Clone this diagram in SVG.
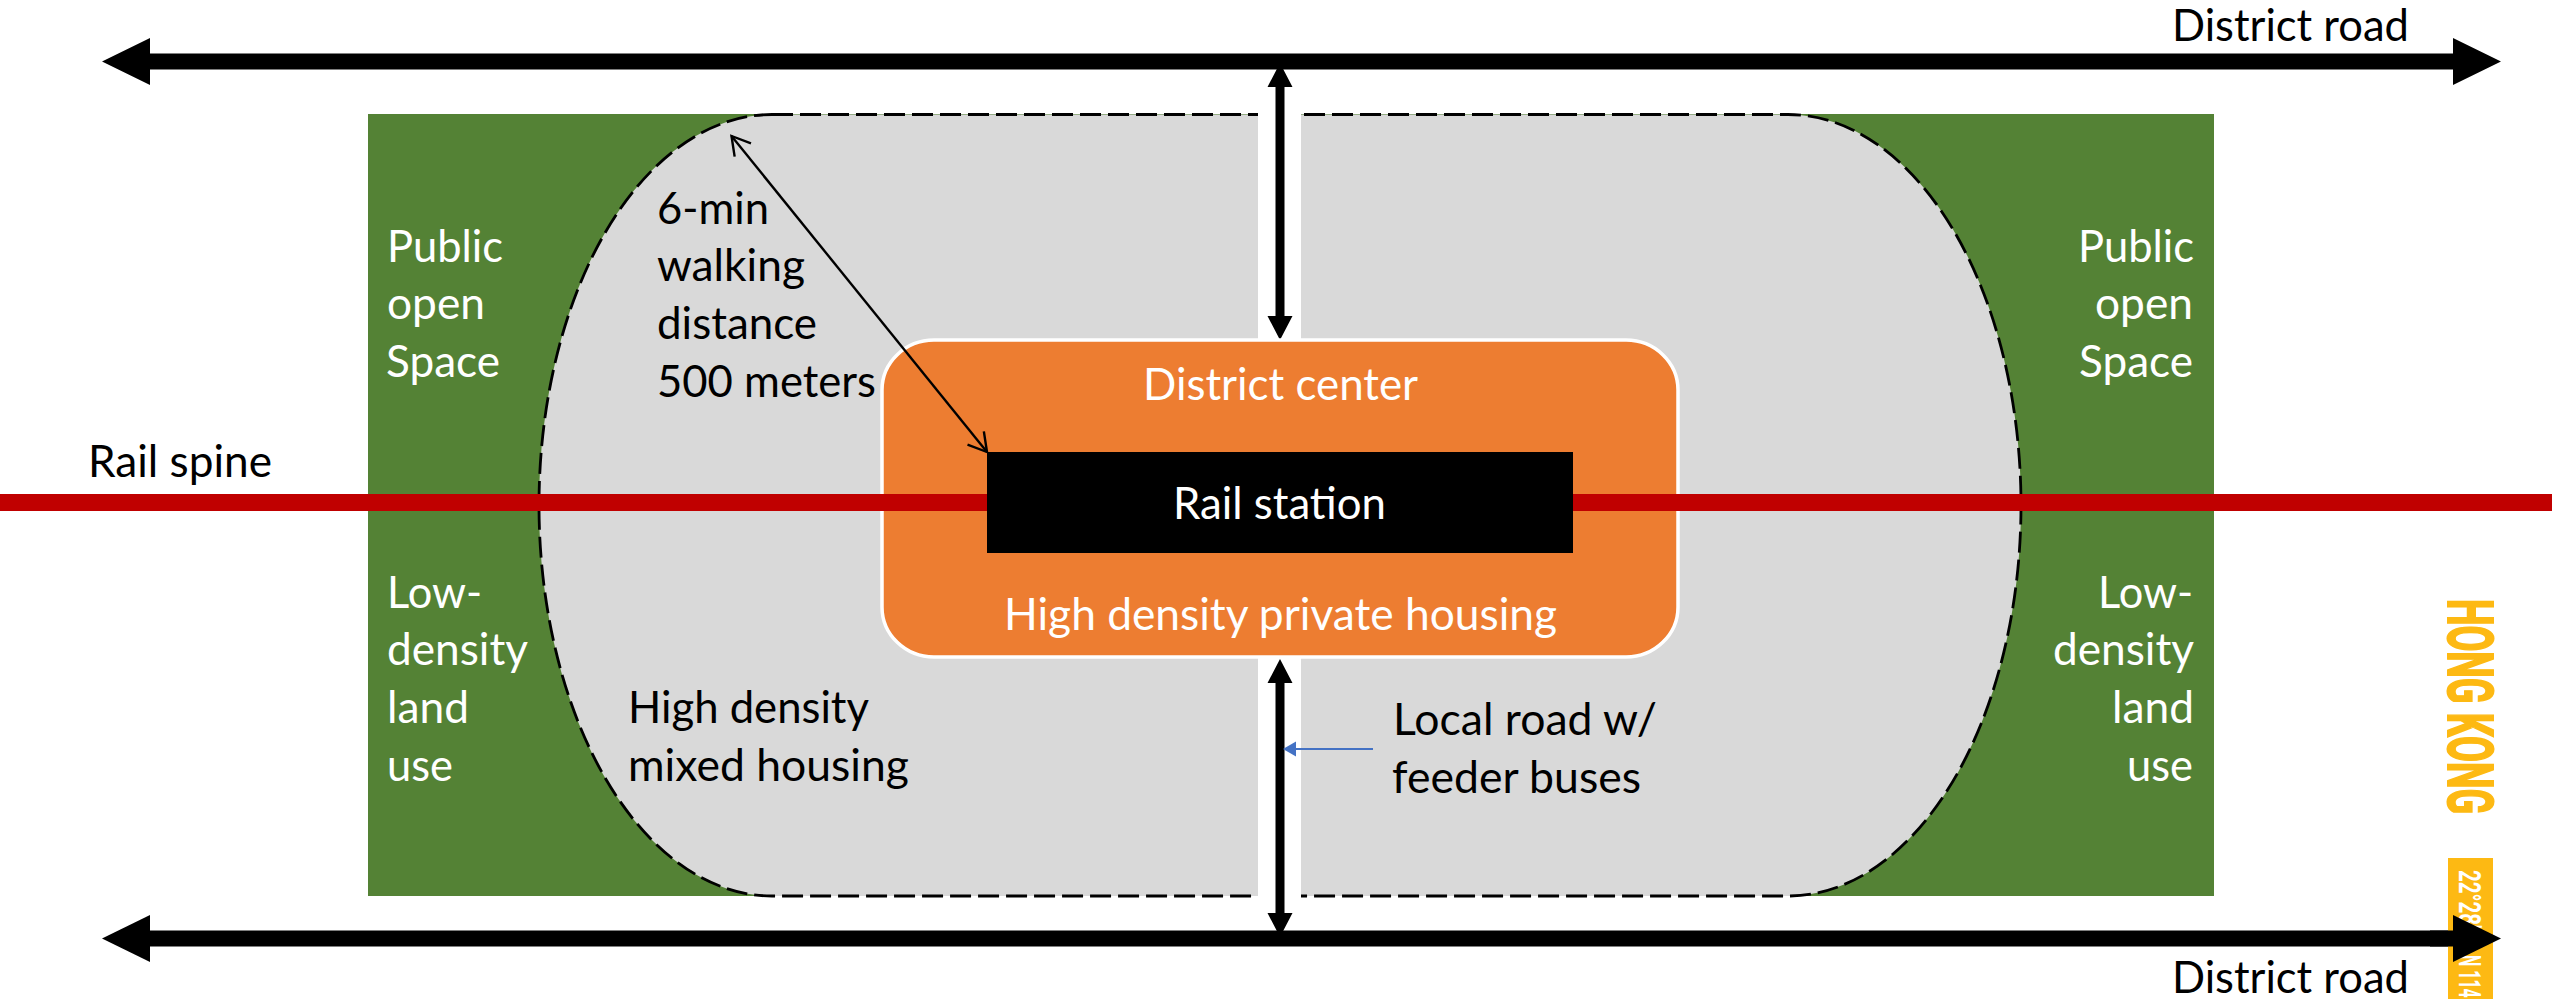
<svg xmlns="http://www.w3.org/2000/svg" width="2552" height="999" viewBox="0 0 2552 999">
<style>
text{font-family:"Lato","Open Sans","Liberation Sans",sans-serif;font-size:44px}
.w{fill:#fff}.k{fill:#000}
.road{stroke:#000;stroke-width:16;fill:none}
.local{stroke:#000;stroke-width:9;fill:none}
.rail{stroke:#c00000;stroke-width:17;fill:none}
.tag{font-family:"Roboto","Liberation Sans",sans-serif;font-weight:700}
</style>
<defs>
<marker id="open" markerUnits="userSpaceOnUse" markerWidth="30" markerHeight="30" refX="24" refY="15" orient="auto-start-reverse" overflow="visible"><path d="M6,4.500 L24,15 L6,25.500" fill="none" stroke="#000" stroke-width="2.400"/></marker>
</defs>
<rect width="2552" height="999" fill="#fff"/>
<g id="open-space"><rect x="368" y="114" width="1846" height="782" fill="#548235"/></g>
<g id="mixed-housing"><path d="M772,114.500 H1788 A233,391 0 0 1 2021,505 A233,391 0 0 1 1788,896 H772 A233,391 0 0 1 539,505 A233,391 0 0 1 772,114.500 Z" fill="#d9d9d9" stroke="#000" stroke-width="2.800" stroke-dasharray="21 7"/></g>
<g id="road-gap"><rect x="1258" y="108" width="43" height="795" fill="#fff"/></g>
<g id="connectors">
<line class="rail" x1="0" y1="502.500" x2="988" y2="502.500"/>
<line class="rail" x1="1572" y1="502.500" x2="2552" y2="502.500"/>
<g id="district-road-top"><line class="road" x1="150" y1="61.500" x2="2453" y2="61.500"/><path d="M102,61.500 L150,38 V85 Z M2501,61.500 L2453,38 V85 Z"/></g>
<g id="district-road-bottom"><line class="road" x1="150" y1="938.500" x2="2453" y2="938.500"/></g>
<g id="local-road-top"><line class="local" x1="1280" y1="80" x2="1280" y2="320"/><path d="M1280,63 L1292.500,87 H1267.500 Z M1280,340 L1292.500,316 H1267.500 Z"/></g>
<g id="local-road-bottom"><line class="local" x1="1280" y1="680" x2="1280" y2="916"/><path d="M1280,659 L1292.500,683 H1267.500 Z M1280,937 L1292.500,913 H1267.500 Z"/></g>
</g>
<g id="district-center"><rect x="882" y="340" width="796" height="317" rx="52" ry="50" fill="#ed7d31" stroke="#fff" stroke-width="3.500"/>
<line class="rail" x1="880" y1="502.500" x2="988" y2="502.500"/><line class="rail" x1="1572" y1="502.500" x2="1680" y2="502.500"/>
<text class="w" x="1143" y="400" textLength="275" lengthAdjust="spacingAndGlyphs">District center</text>
<text class="w" x="1004" y="630" textLength="553" lengthAdjust="spacingAndGlyphs">High density private housing</text></g>
<g id="rail-station"><rect x="987" y="452" width="586" height="101" fill="#000"/><text class="w" x="1173" y="519" textLength="213" lengthAdjust="spacingAndGlyphs">Rail station</text></g>
<g id="bottom-arrow-head"><path d="M102,938.500 L150,915 V962 Z"/></g>
<g id="walking-arrow"><line x1="731.500" y1="136" x2="987" y2="452" stroke="#000" stroke-width="2.400" marker-start="url(#open)" marker-end="url(#open)"/></g>
<g id="feeder-pointer"><line x1="1373" y1="749" x2="1294" y2="749" stroke="#4472c4" stroke-width="2.200"/><path d="M1283,749 L1296,741.500 V756.500 Z" fill="#4472c4"/></g>
<g id="labels-left">
<text class="w" x="387" y="262" textLength="116" lengthAdjust="spacingAndGlyphs">Public</text>
<text class="w" x="387" y="319" textLength="98" lengthAdjust="spacingAndGlyphs">open</text>
<text class="w" x="386" y="377" textLength="114" lengthAdjust="spacingAndGlyphs">Space</text>
<text class="w" x="387" y="608" textLength="95" lengthAdjust="spacingAndGlyphs">Low-</text>
<text class="w" x="387" y="665" textLength="141" lengthAdjust="spacingAndGlyphs">density</text>
<text class="w" x="387" y="723" textLength="82" lengthAdjust="spacingAndGlyphs">land</text>
<text class="w" x="387" y="781" textLength="66" lengthAdjust="spacingAndGlyphs">use</text>
</g>
<g id="labels-right">
<text class="w" x="2078" y="262" textLength="116" lengthAdjust="spacingAndGlyphs">Public</text>
<text class="w" x="2095" y="319" textLength="98" lengthAdjust="spacingAndGlyphs">open</text>
<text class="w" x="2079" y="377" textLength="114" lengthAdjust="spacingAndGlyphs">Space</text>
<text class="w" x="2098" y="608" textLength="95" lengthAdjust="spacingAndGlyphs">Low-</text>
<text class="w" x="2053" y="665" textLength="141" lengthAdjust="spacingAndGlyphs">density</text>
<text class="w" x="2112" y="723" textLength="82" lengthAdjust="spacingAndGlyphs">land</text>
<text class="w" x="2127" y="781" textLength="66" lengthAdjust="spacingAndGlyphs">use</text>
</g>
<g id="labels-inner">
<text class="k" x="657" y="224" textLength="112" lengthAdjust="spacingAndGlyphs">6-min</text>
<text class="k" x="657" y="281" textLength="148" lengthAdjust="spacingAndGlyphs">walking</text>
<text class="k" x="657" y="339" textLength="160" lengthAdjust="spacingAndGlyphs">distance</text>
<text class="k" x="657" y="397" textLength="219" lengthAdjust="spacingAndGlyphs">500 meters</text>
<text class="k" x="628" y="723" textLength="241" lengthAdjust="spacingAndGlyphs">High density</text>
<text class="k" x="628" y="781" textLength="281" lengthAdjust="spacingAndGlyphs">mixed housing</text>
<text class="k" x="1393" y="735" textLength="264" lengthAdjust="spacingAndGlyphs">Local road w/</text>
<text class="k" x="1392" y="793" textLength="249" lengthAdjust="spacingAndGlyphs">feeder buses</text>
</g>
<g id="labels-roads">
<text class="k" x="2172" y="41" textLength="237" lengthAdjust="spacingAndGlyphs">District road</text>
<text class="k" x="2172" y="993" textLength="237" lengthAdjust="spacingAndGlyphs">District road</text>
<text class="k" x="88" y="477" textLength="184" lengthAdjust="spacingAndGlyphs">Rail spine</text>
</g>
<g id="hong-kong-tag">
<text class="tag" transform="translate(2448,599) rotate(90)" style="font-size:63px;stroke:#fdb913;stroke-width:2" fill="#fdb913" textLength="215" lengthAdjust="spacingAndGlyphs">HONG KONG</text>
</g>
<g id="coordinate-tag">
<rect x="2448" y="858" width="45" height="141" fill="#fdb913"/>
<text class="tag" transform="translate(2459,870) rotate(90) scale(.640,1)" style="font-size:32px" fill="#fff">22°28'</text>
<text class="tag" transform="translate(2459,955) rotate(90) scale(.500,1)" style="font-size:32px" fill="#fff">N 114</text>
<line class="road" x1="2430" y1="938.500" x2="2460" y2="938.500"/>
<path d="M2501,938.500 L2453,915 V962 Z"/>
</g>
</svg>
